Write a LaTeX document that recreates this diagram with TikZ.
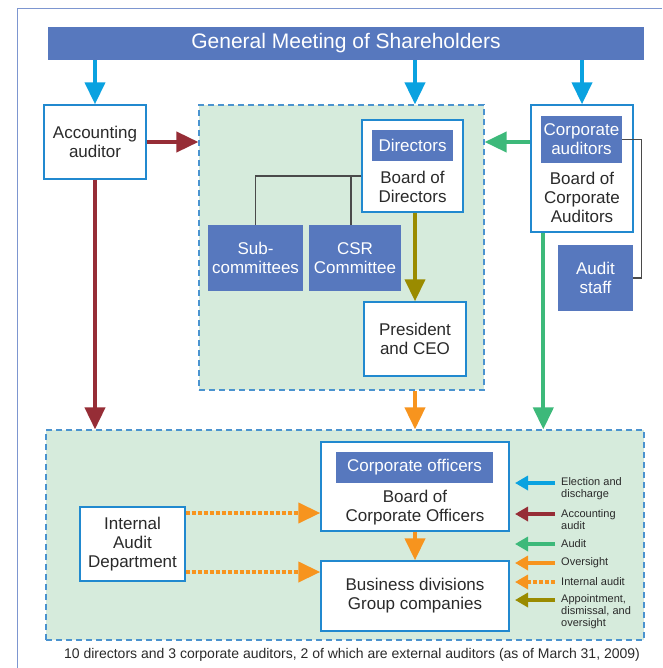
\documentclass[tikz,border=0pt]{standalone}
\usepackage{fontspec}
\setmainfont{Liberation Sans}
\usetikzlibrary{arrows.meta,calc}

\definecolor{barblue}{HTML}{5778BE}
\definecolor{boxline}{HTML}{2189CF}
\definecolor{regline}{HTML}{4A93CF}
\definecolor{regfill}{HTML}{D6EBDC}
\definecolor{frameblue}{HTML}{7D96D0}
\definecolor{txtgray}{HTML}{2A2A2A}
\definecolor{elecblue}{HTML}{0AA2E0}
\definecolor{accred}{HTML}{962D36}
\definecolor{audgreen}{HTML}{3DB97A}
\definecolor{overorange}{HTML}{F7941E}
\definecolor{apptolive}{HTML}{9A8B00}

\begin{document}
\begin{tikzpicture}[x=1pt,y=-1pt,
  >={Triangle[length=22pt,width=20pt]},
  every node/.style={text=txtgray,align=center,inner sep=0pt},
  wbox/.style={draw=boxline,fill=white,line width=1.4pt,font=\fontsize{17}{19}\selectfont},
  bbox/.style={fill=barblue,text=white,font=\fontsize{17}{19}\selectfont},
  plain/.style={font=\fontsize{17}{19}\selectfont},
  region/.style={draw=regline,fill=regfill,line width=1.2pt,dash pattern=on 6pt off 4pt},
  flow/.style={->,line width=4pt},
  dotflow/.style={->,line width=4pt,dash pattern=on 4pt off 2pt},
  legarr/.style={line width=3.5pt,-{Triangle[length=13pt,width=14pt]}},
  legtxt/.style={anchor=west,align=left,font=\fontsize{11}{12}\selectfont}]

  \useasboundingbox (0,0) rectangle (662,668);
  \draw[frameblue,line width=1pt] (17,668) -- (17,9) -- (662,9);

  \node[region,minimum width=285pt,minimum height=285pt] (upreg) at (341.5,247.5) {};
  \node[region,minimum width=598pt,minimum height=210pt] (lowreg) at (345,535) {};

  \node[fill=barblue,text=white,minimum width=596pt,minimum height=33pt,
        font=\fontsize{21}{24}\selectfont] (gms) at (346,43.5) {General Meeting of Shareholders};

  \node[wbox,minimum width=102pt,minimum height=74pt] (accaud) at (95,142) {Accounting\\auditor};

  \node[wbox,minimum width=101pt,minimum height=92pt] (bod) at (412.5,166) {};
  \node[bbox,minimum width=81pt,minimum height=31pt] (dirlbl) at (412.5,145.5) {Directors};
  \node[plain] (bodtxt) at (412.5,186.5) {Board of\\Directors};

  \node[bbox,minimum width=95pt,minimum height=66pt] (sub) at (255.5,258) {Sub-\\committees};
  \node[bbox,minimum width=92pt,minimum height=66pt] (csr) at (355,258) {CSR\\Committee};
  \node[wbox,minimum width=102pt,minimum height=74pt] (ceo) at (415,339) {President\\and CEO};

  \node[wbox,minimum width=102pt,minimum height=127pt] (bca) at (582,168.5) {};
  \node[bbox,minimum width=81pt,minimum height=47pt] (calbl) at (581.5,139.5) {Corporate\\auditors};
  \node[plain] (bcatxt) at (582,197) {Board of\\Corporate\\Auditors};
  \node[bbox,minimum width=75pt,minimum height=66pt] (staff) at (595.5,278) {Audit\\staff};

  \node[wbox,minimum width=188pt,minimum height=89pt] (bco) at (415,486.5) {};
  \node[bbox,minimum width=157pt,minimum height=31pt] (colbl) at (414.5,467.5) {Corporate officers};
  \node[plain] (bcotxt) at (415,507.5) {Board of\\Corporate Officers};
  \node[wbox,minimum width=188pt,minimum height=70pt] (biz) at (415,596) {Business divisions\\Group companies};
  \node[wbox,minimum width=105pt,minimum height=74pt] (iad) at (132.5,544) {Internal\\Audit\\Department};

  \node[font=\fontsize{14}{16}\selectfont] (note) at (352,655)
    {10 directors and 3 corporate auditors, 2 of which are external auditors (as of March 31, 2009)};

  % election and discharge
  \draw[flow,elecblue] (gms.south -| accaud) -- (accaud.north);
  \draw[flow,elecblue] (gms.south -| ceo) -- (upreg.north -| ceo);
  \draw[flow,elecblue] (gms.south -| bca) -- (bca.north);

  % accounting audit
  \draw[flow,accred] (accaud.east) -- (upreg.west |- accaud.east);
  \draw[flow,accred] (accaud.south) -- (lowreg.north -| accaud);

  % audit
  \coordinate (gdown) at ([xshift=13pt]bca.south west);
  \draw[flow,audgreen] (bca.west |- accaud.east) -- (upreg.east |- accaud.east);
  \draw[flow,audgreen] (gdown) -- (gdown |- lowreg.north);

  % committees and staff
  \coordinate (tr) at ([yshift=-10pt]bod.west);
  \coordinate (csrtop) at ([xshift=-4pt]csr.north);
  \draw[line width=1.2pt,txtgray!85] (tr) -| (sub.north);
  \draw[line width=1.2pt,txtgray!85] (tr -| csrtop) -- (csrtop);
  \draw[line width=1.2pt,txtgray!85] (calbl.east) -- ++(19,0) |- (staff.east);

  % appointment and oversight
  \draw[flow,apptolive] (ceo.north |- bod.south) -- (ceo.north);
  \draw[flow,overorange] (upreg.south -| ceo) -- (lowreg.north -| ceo);
  \draw[flow,overorange] (bco.south) -- (biz.north);

  % internal audit
  \coordinate (ia1) at ([yshift=31pt]iad.east);
  \coordinate (ia2) at ([yshift=-28pt]iad.east);
  \draw[dotflow,overorange] (ia1) -- (ia1 -| bco.west);
  \draw[dotflow,overorange] (ia2) -- (ia2 -| biz.west);

  % legend
  \foreach \ly/\ty/\col/\txt [count=\i] in {
      483/489/elecblue/{Election and\\discharge},
      514/520/accred/{Accounting\\audit},
      544/544/audgreen/{Audit},
      563/563/overorange/{Oversight},
      600/612/apptolive/{Appointment,\\dismissal, and\\oversight}}{
    \coordinate (la\i) at (555,\ly);
    \coordinate (lb\i) at (515,\ly);
    \draw[legarr,\col] (la\i) -- (lb\i);
    \node[legtxt] (lt\i) at (561,\ty) {\txt};
  }
  \coordinate (lai) at (555,582);
  \coordinate (lbi) at (515,582);
  \draw[legarr,overorange,dash pattern=on 4pt off 2pt] (lai) -- (lbi);
  \node[legtxt] (lti) at (561,582) {Internal audit};
\end{tikzpicture}
\end{document}
